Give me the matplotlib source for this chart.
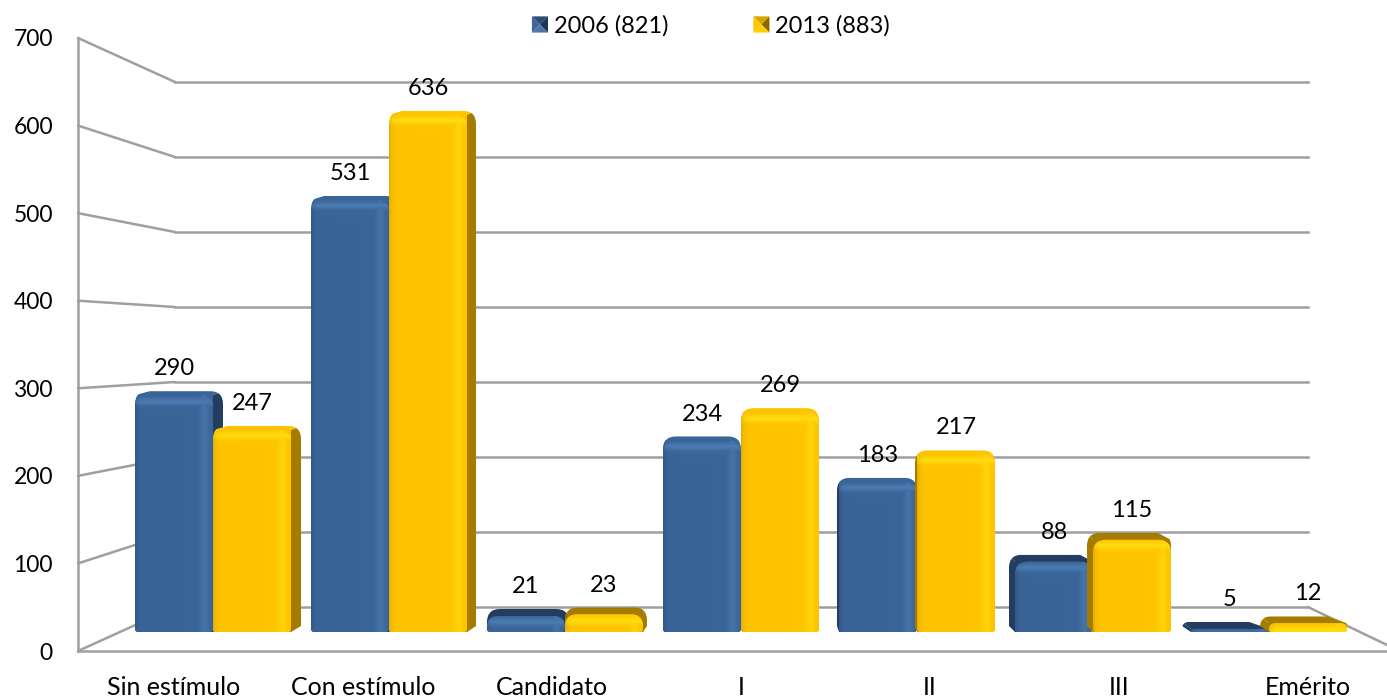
import numpy as np
import matplotlib
matplotlib.use('Agg')
import matplotlib.pyplot as plt
from matplotlib.legend_handler import HandlerBase
from matplotlib.patches import ConnectionPatch, Patch, Polygon
from matplotlib.path import Path
from matplotlib.transforms import IdentityTransform

categories = ['Sin estímulo', 'Con estímulo', 'Candidato', 'I', 'II', 'III', 'Emérito']
values_2006 = [290, 531, 21, 234, 183, 88, 5]
values_2013 = [247, 636, 23, 269, 217, 115, 12]
series_names = ['2006 (821)', '2013 (883)']
y_ticks = [0, 100, 200, 300, 400, 500, 600, 700]

# how far each column leans sideways, in pixels (fake perspective)
side_px = [10, 9, 4, 0, -2, -6, -9]

W, H = 1387, 698
GRID = '#9f9f9f'
BLUE = {'front': '#3a6598', 'side': '#223d60', 'hi': '#4d7db5'}
GOLD = {'front': '#ffc400', 'side': '#a67c00', 'hi': '#ffdf10'}
PX_X, PX_Y = 176.0, 0.81
BAR_W = 78 / PX_X
FOOT = 6 / PX_Y

plt.rcParams['font.family'] = ['Lato', 'DejaVu Sans']
plt.rcParams['font.size'] = 17

fig = plt.figure(figsize=(W / 100, H / 100), dpi=100)


def rect_px(x0, y0, x1, y1):
    return [x0 / W, 1 - y1 / H, (x1 - x0) / W, (y1 - y0) / H]


# back wall
back = fig.add_axes(rect_px(175, 82, 1308, 607), zorder=0)
back.set_xlim(0, 1)
back.set_ylim(0, 700)
back.set_yticks(y_ticks)
back.set_xticks([])
back.tick_params(left=False, labelleft=False)
back.yaxis.grid(True, color=GRID, lw=1.8)
for line in back.get_ygridlines():
    line.set_clip_on(False)
for s in back.spines.values():
    s.set_visible(False)

# front plane, holds the tick labels
front = fig.add_axes(rect_px(78, 38, W, 651), zorder=1)
front.patch.set_alpha(0)
front.set_xlim(-96 / 189, 1213 / 189)
front.set_ylim(0, 700)
front.set_yticks(y_ticks)
front.set_xticks(range(len(categories)), categories, fontsize=18)
front.tick_params(axis='y', length=0, pad=18, labelsize=16.5)
front.tick_params(axis='x', length=0, pad=18)
for s in ['top', 'right']:
    front.spines[s].set_visible(False)
for s in ['left', 'bottom']:
    front.spines[s].set_color(GRID)
    front.spines[s].set_linewidth(1.8)

# lines from the front plane back to the wall
for v in y_ticks:
    fig.add_artist(ConnectionPatch((0, v), (0, v), front.get_yaxis_transform(), back.get_yaxis_transform(),
                                   color=GRID, lw=1.8, shrinkA=0, shrinkB=0, zorder=0.5))
fig.add_artist(ConnectionPatch((1, 0), (W, 53), back.get_yaxis_transform(), 'figure pixels',
                               color=GRID, lw=1.8, shrinkA=0, shrinkB=0, zorder=0.5))

# columns
ax = fig.add_axes([0, 0, 1, 1], zorder=3)
ax.axis('off')
ax.set_xlim(-213 / PX_X, (W - 213) / PX_X)
ax.set_ylim(-(H - 626) / PX_Y, 626 / PX_Y)
ax.autoscale(False)


def rounded(x0, y0, x1, y1, rt, rb=3):
    # box in data coords with round corners, as a path in display coords
    (a, b), (c, d) = ax.transData.transform([(x0, y0), (x1, y1)])
    rt = min(rt, (d - b) * 0.7, (c - a) / 2)
    rb = min(rb, (d - b) * 0.3)
    verts = [(a + rb, b), (c - rb, b), (c, b), (c, b + rb), (c, d - rt), (c, d), (c - rt, d),
             (a + rt, d), (a, d), (a, d - rt), (a, b + rb), (a, b), (a + rb, b), (a + rb, b)]
    L, Q = Path.LINETO, Path.CURVE3
    codes = [Path.MOVETO, L, Q, Q, L, Q, Q, L, Q, Q, L, Q, Q, Path.CLOSEPOLY]
    return Path(verts, codes)


def shaded(style, nx, ny, hi_x):
    base = np.array(matplotlib.colors.to_rgb(style['front']))
    hi = np.array(matplotlib.colors.to_rgb(style['hi']))
    dark = np.array(matplotlib.colors.to_rgb(style['side']))
    xx, yy = np.meshgrid(np.arange(nx), np.arange(ny))
    glow = np.maximum(np.exp(-((xx - hi_x) / 4.0) ** 2) * 0.6, np.exp(-((yy - 6) / 3.5) ** 2) * 0.9)
    shade = np.exp(-xx / 2.5) * 0.3
    img = base + glow[..., None] * (hi - base)
    return img + shade[..., None] * (dark - img)


x = np.arange(len(categories))
inner_x = 15 / PX_X
inner_y = 15 / PX_Y
for j, (vals, style, off) in enumerate(zip([values_2006, values_2013], [BLUE, GOLD], [-BAR_W / 2, BAR_W / 2])):
    zb = 2 + 2 * j
    heights = np.array(vals) + FOOT
    bars = ax.bar(x + off, heights, BAR_W, bottom=-FOOT, color=style['front'], zorder=zb + 1)
    for i, bar in enumerate(bars):
        v = vals[i]
        s = side_px[i] / PX_X
        t = (7 if v < 150 else 4) / PX_Y
        x0, x1 = bar.get_x(), bar.get_x() + BAR_W
        ft = v - t
        low = max(ft - inner_y, -FOOT)
        top_col = style['side'] if v < 150 else style['front']
        # back edge of the top face is narrower than the front edge
        if side_px[i] > 0:
            left, right = x0 + 1.5 * s, x1 + s
            side_pts = [(x1 - inner_x, ft), (x1, ft), (right, v), (right, -FOOT + 6 / PX_Y), (x1, -FOOT),
                        (x1 - inner_x, -FOOT)]
        else:
            left, right = x0 + s, x1 + 2.2 * s
            side_pts = [(x0 + inner_x, ft), (x0, ft), (left, v), (left, -FOOT + 6 / PX_Y), (x0, -FOOT),
                        (x0 + inner_x, -FOOT)]
        top_pts = [(x0, low), (x0, ft), (left, v), (right, v), (x1, ft), (x1, low)]
        outline = rounded(min(x0, left), -FOOT, max(x1, right), v, 13)
        for pts, col in [(side_pts, style['side']), (top_pts, top_col)]:
            poly = Polygon(pts, closed=True, fc=col, ec='none', zorder=zb)
            ax.add_patch(poly)
            poly.set_clip_path(outline, IdentityTransform())
        body = rounded(x0, -FOOT, x1, ft, 13)
        bar.set_clip_path(body, IdentityTransform())
        ny = max(int((ft + FOOT) * PX_Y), 2)
        im = ax.imshow(shaded(style, 78, ny, 69), extent=(x0, x1, -FOOT, ft), aspect='auto', zorder=zb + 1)
        im.set_clip_path(body, IdentityTransform())
    ax.bar_label(bars, labels=[str(v) for v in vals], padding=8.5, zorder=10)


# legend with the little pyramid swatches
class PyramidHandler(HandlerBase):
    def create_artists(self, legend, orig, xd, yd, w, h, fs, trans):
        c = (w / 2 - xd, h / 2 - yd)
        a, b = (-xd, -yd), (w - xd, -yd)
        e, d = (w - xd, h - yd), (-xd, h - yd)
        tris = [(d, e), (a, d), (e, b), (b, a)]
        return [Polygon([p, q, c], closed=True, fc=col, ec='none', transform=trans)
                for (p, q), col in zip(tris, orig.shades)]


h1 = Patch()
h1.shades = ['#2c4d76', '#3d6899', '#1f3654', '#4a76aa']
h2 = Patch()
h2.shades = ['#d9a400', '#ffc400', '#8a6800', '#ffd000']
fig.legend([h1, h2], series_names, handler_map={Patch: PyramidHandler()}, loc='center', ncol=2,
           bbox_to_anchor=(711 / W, 1 - 26 / H), frameon=False, handlelength=0.68, handleheight=0.68,
           handletextpad=0.25, columnspacing=3.6, borderpad=0, borderaxespad=0)

fig.savefig('out.png', dpi=100)
